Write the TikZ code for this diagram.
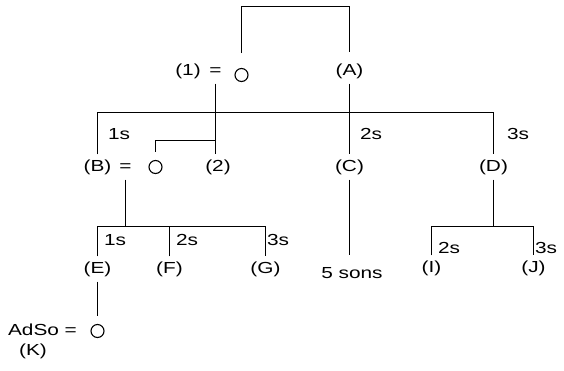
\documentclass[tikz,border=0pt]{standalone}
\usepackage{fontspec}
\setmainfont{Liberation Sans}[FakeStretch=1.3]
\usepackage{tikz}
\usetikzlibrary{positioning}

\begin{document}
\begin{tikzpicture}[
        x=1pt,
        y=-1pt,
        font=\fontsize{16}{19}\selectfont,
        wire/.style={line width=1.2pt},
        lbl/.style={inner sep=0pt, text height=11.5pt, text depth=3.5pt, minimum height=25pt},
        ring/.style={circle, draw, line width=1.1pt, minimum size=13pt, inner sep=0pt, outer sep=9pt}
    ]
        \useasboundingbox (0,0) rectangle (564,370);

        % first row
        \node[lbl] (n1) at (188,71) {(1)};
        \node[lbl] (eq1) at (215.5,71) {=};
        \node[ring] (c1) at (241.5,75) {};
        \node[lbl] (A) at (349.5,71) {(A)};

        % second row
        \node[lbl] (B) at (97.5,167) {(B)};
        \node[lbl] (eqB) at (125.5,167) {=};
        \node[ring] (cB) at (155.5,167) {};
        \node[lbl] (n2) at (218,167) {(2)};
        \node[lbl] (C) at (349.5,167) {(C)};
        \node[lbl] (D) at (493.5,167) {(D)};
        \node[lbl] at (119,135) {1s};
        \node[lbl] at (371,135) {2s};
        \node[lbl] at (518,135) {3s};

        % third row
        \node[lbl] (E) at (97.5,269) {(E)};
        \node[lbl] (F) at (169.5,269) {(F)};
        \node[lbl] (G) at (265.5,269) {(G)};
        \node[lbl] at (115,241) {1s};
        \node[lbl] at (187,241) {2s};
        \node[lbl] at (278,241) {3s};
        \node[lbl] (sons) at (352,274.5) {5 sons};
        \node[lbl] (I) at (431.5,268) {(I)};
        \node[lbl] (J) at (533.5,268) {(J)};
        \node[lbl] at (449,249) {2s};
        \node[lbl] at (546,249) {3s};

        % last row
        \node[ring] (cK) at (97.5,331) {};
        \node[lbl] (adso) at (42.5,331) {AdSo =};
        \node[lbl] (K) at (33,351) {(K)};

        \coordinate (top) at (300,6.5);
        \coordinate (bar1) at (300,112.5);
        \coordinate (brk) at (215.5,140.5);
        \coordinate (bar2) at (180,226.5);
        \coordinate (bar3) at (480,226.5);
        \coordinate (sonsTop) at ([yshift=6.5pt]sons.north);

        \draw[wire] ([yshift=6.5pt]c1.north) |- (top) -| ([yshift=6pt]A.north);
        \draw[wire] (eq1.south) -- (eq1.south |- n2.north);
        \draw[wire] (A.south) -- (C.north);
        \draw[wire] (B.north) |- (bar1) -| (D.north);
        \draw[wire] (cB.north) |- (brk);

        \draw[wire] (eqB.south) -- (eqB.south |- bar2);
        \draw[wire] (E.north) |- (bar2) -| (G.north);
        \draw[wire] (F.north) -- (F.north |- bar2);
        \draw[wire] (E.south) -- (cK.north);

        \draw[wire] (C.south) -- (C.south |- sonsTop);
        \draw[wire] (D.south) -- (D.south |- bar3);
        \draw[wire] (I.north) |- (bar3) -| (J.north);
    \end{tikzpicture}
\end{document}
